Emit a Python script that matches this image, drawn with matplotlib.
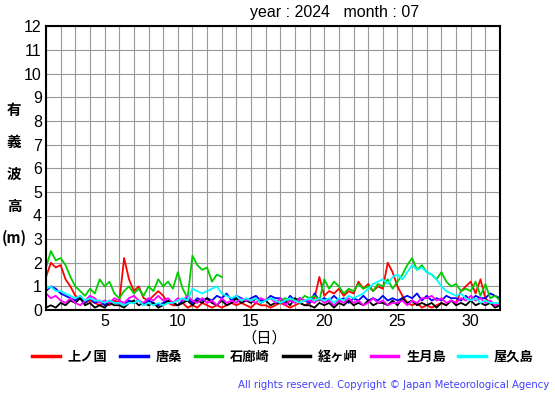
"""
有義波高 2024年7月 (6地点)
"""
import numpy as np
import matplotlib
matplotlib.use('Agg')
import matplotlib.pyplot as plt

nan = float('nan')

# 観測地点と色 ----------------------------
stations = ['上ノ国', '唐桑', '石廊崎', '経ヶ岬', '生月島', '屋久島']
colors = ['#ff0000', '#0000ff', '#00cc00', '#000000', '#ff00ff', '#00ffff']

# 8時間ごとの値 (1日 00時 〜 32日 00時)
kaminokuni = [1.4, 2.0, 1.8, 1.9, 1.3, 1.0, 0.6, 0.5, 0.3, 0.4, 0.3, 0.2, 0.3, 0.2, 0.4,
              0.3, 2.2, 1.3, 0.8, 1.0, 0.5, 0.4, 0.6, 0.8, 0.6, 0.3, 0.2, 0.2, 0.3, 0.1,
              0.2, 0.1, 0.3, 0.2, 0.1, 0.2, 0.1, 0.2, 0.3, 0.2, 0.3, 0.2, 0.1, 0.3, 0.2,
              0.2, 0.1, 0.2, 0.3, 0.2, 0.1, 0.2, 0.3, 0.2, 0.3, 0.5, 1.4, 0.6, 0.8, 0.7,
              0.9, 0.6, 0.8, 0.7, 1.2, 0.9, 1.1, 0.8, 1.0, 0.9, 2.0, 1.6, 1.0, 0.6, 0.3,
              0.2, 0.3, 0.1, 0.2, 0.1, 0.2, 0.3, 0.2, 0.4, 0.3, 0.8, 1.0, 1.2, 0.7, 1.3,
              0.5, 0.3, 0.2, 0.2]
karakuwa = [0.8, 1.0, 0.9, 0.7, 0.6, 0.5, 0.4, 0.6, 0.3, 0.5, 0.3, 0.4, 0.2, 0.4, 0.3,
            0.3, 0.2, 0.4, 0.3, 0.4, 0.2, 0.4, 0.3, 0.2, 0.3, 0.4, 0.3, 0.2, 0.4, 0.5,
            0.3, 0.5, 0.4, 0.5, 0.4, 0.6, 0.5, 0.7, 0.4, 0.6, 0.5, 0.4, 0.5, 0.6, 0.4,
            0.4, 0.6, 0.5, 0.5, 0.3, 0.6, 0.4, 0.5, 0.4, 0.3, 0.7, 0.4, 0.5, 0.4, 0.6,
            0.4, 0.5, 0.3, 0.5, 0.4, 0.6, 0.4, 0.5, 0.4, 0.6, 0.4, 0.5, 0.4, 0.5, 0.6,
            0.5, 0.7, 0.4, 0.6, 0.4, 0.5, 0.4, 0.6, 0.5, 0.5, 0.4, 0.6, 0.4, 0.6, 0.5,
            0.5, 0.7, 0.6, 0.5]
irozaki = [1.8, 2.5, 2.1, 2.2, 1.9, 1.4, 1.0, 0.8, 0.6, 0.9, 0.7, 1.3, 1.0, 1.2, 0.7,
           0.5, 0.8, 1.0, 0.7, 0.9, 0.6, 1.0, 0.8, 1.3, 1.0, 1.2, 0.9, 1.6, 0.9, 0.5,
           2.3, 1.9, 1.7, 1.8, 1.2, 1.5, 1.4, nan, nan, nan, nan, nan, nan, nan, nan,
           nan, nan, nan, 0.4, 0.5, 0.4, 0.5, 0.4, 0.6, 0.5, 0.6, 0.4, 1.3, 0.9, 1.2,
           1.0, 0.7, 0.9, 0.8, 1.1, 0.9, 1.0, 0.8, 1.1, 1.0, 1.3, 0.9, 1.2, 1.5, 1.9,
           2.2, 1.7, 1.9, 1.6, 1.5, 1.3, 1.6, 1.2, 1.0, 1.1, 0.8, 0.9, 0.8, 1.2, 0.6,
           1.1, 0.5, 0.6, 0.4]
kyogamisaki = [0.1, 0.2, 0.1, 0.3, 0.2, 0.4, 0.3, 0.5, 0.2, 0.3, 0.1, 0.2, 0.1, 0.3, 0.2,
               0.2, 0.1, 0.3, 0.4, 0.2, 0.3, 0.2, 0.3, 0.1, 0.2, 0.4, 0.3, 0.2, 0.3, 0.4,
               0.2, 0.4, 0.3, 0.5, 0.3, 0.2, 0.4, 0.2, 0.3, 0.5, 0.3, 0.4, 0.3, 0.5, 0.3,
               0.4, 0.2, 0.3, 0.3, 0.4, 0.2, 0.5, 0.3, 0.2, 0.2, 0.1, 0.3, 0.2, 0.3, 0.1,
               0.3, 0.2, 0.4, 0.2, 0.3, 0.2, 0.4, 0.2, 0.3, 0.3, 0.2, 0.4, 0.2, 0.5, 0.3,
               0.4, 0.2, 0.3, 0.2, 0.3, 0.1, 0.3, 0.2, 0.4, 0.2, 0.3, 0.2, 0.4, 0.2, 0.3,
               0.2, 0.3, 0.1, 0.2]
ikitsukishima = [0.7, 0.5, 0.6, 0.4, 0.3, 0.5, 0.3, 0.2, 0.4, 0.6, 0.5, 0.3, 0.4, 0.3, 0.5,
                 0.4, 0.3, 0.5, 0.6, 0.4, 0.3, 0.5, 0.4, 0.6, 0.4, 0.5, 0.3, 0.5, 0.4, 0.6,
                 0.4, 0.3, 0.5, 0.3, 0.4, 0.2, 0.5, 0.3, 0.4, 0.3, 0.5, 0.4, 0.4, 0.3, 0.5,
                 0.4, 0.5, 0.3, 0.5, 0.2, 0.4, 0.3, 0.5, 0.4, 0.4, 0.3, 0.5, 0.3, 0.4, 0.2,
                 0.4, 0.3, 0.5, 0.3, 0.4, 0.2, 0.3, 0.5, 0.3, 0.4, 0.2, 0.3, 0.3, 0.4, 0.2,
                 0.4, 0.3, 0.5, 0.5, 0.6, 0.4, 0.5, 0.3, 0.4, 0.3, 0.5, 0.4, 0.6, 0.4, 0.5,
                 0.3, 0.4, 0.2, 0.3]
yakushima = [0.9, 1.0, 0.8, 0.8, 0.7, 0.6, 0.5, 0.6, 0.4, 0.5, 0.4, 0.4, 0.3, 0.4, 0.3,
             0.3, 0.2, 0.3, 0.3, 0.4, 0.2, 0.3, 0.2, 0.3, 0.2, 0.3, 0.3, 0.4, 0.5, 0.4,
             0.9, 0.8, 0.7, 0.8, 0.9, 1.0, 0.7, 0.6, 0.5, 0.6, 0.4, 0.5, 0.4, 0.5, 0.3,
             0.4, 0.5, 0.4, 0.3, 0.4, 0.5, 0.4, 0.3, 0.4, 0.5, 0.4, 0.5, 0.4, 0.5, 0.3,
             0.5, 0.4, 0.6, 0.5, 0.6, 0.7, 0.9, 1.1, 1.2, 1.3, 1.1, 1.4, 1.5, 1.3, 1.6,
             1.9, 1.7, 1.8, 1.6, 1.5, 1.3, 1.0, 0.8, 0.7, 0.6, 0.7, 0.5, 0.4, 0.5, 0.3,
             0.4, 0.3, 0.3, 0.3]

series = [kaminokuni, karakuwa, irozaki, kyogamisaki, ikitsukishima, yakushima]
days = 1 + np.arange(len(kaminokuni)) / 3

# 図 -------------------------------------
jp = ['Noto Sans CJK JP', 'DejaVu Sans']
plt.rcParams['font.family'] = ['Liberation Sans', 'DejaVu Sans']

fig = plt.figure(figsize=(5.55, 3.95), dpi=100)
ax = fig.add_axes([46/555, 1 - 310/395, 454/555, 283.5/395])

for name, vals, c in zip(stations, series, colors):
    ax.plot(days, vals, color=c, lw=1.3, label=name)

ax.set_xlim(1, 32)
ax.set_ylim(0, 12)
ax.set_xticks([5, 10, 15, 20, 25, 30])
ax.set_xticks(np.arange(1, 33), minor=True)
ax.set_yticks(np.arange(0, 13))
ax.grid(True, which='both', color='#999999', lw=0.8)
ax.set_axisbelow(True)
ax.tick_params(which='both', length=0, labelsize=11.5, pad=3)
for s in ax.spines.values():
    s.set_linewidth(1.5)

fig.text(250/555, 1 - 13/395, 'year : 2024   month : 07', fontsize=11.5, va='center')

# 縦書きの軸ラベル
for ch, y in zip(['有', '義', '波', '高', '(m)'], [110, 142, 174, 206, 238]):
    fig.text(14/555, 1 - y/395, ch, family=jp, fontsize=10.5, weight='bold',
             ha='center', va='center')

fig.text(264/555, 1 - 338/395, '（日）', family=jp, fontsize=11, ha='center', va='center')

fig.legend(loc='center', bbox_to_anchor=(283/555, 1 - 357/395), ncol=6, frameon=False,
           prop={'family': jp, 'size': 9.5, 'weight': 'bold'}, handlelength=2.1,
           handletextpad=0.6, columnspacing=0.95, borderaxespad=0)
for line in fig.legends[0].get_lines():
    line.set_linewidth(2.5)

fig.text(549/555, 1 - 385/395, 'All rights reserved. Copyright © Japan Meteorological Agency',
         fontsize=7.3, color='#4040ff', ha='right', va='center', family='DejaVu Sans')

fig.savefig('out.png', dpi=100)
